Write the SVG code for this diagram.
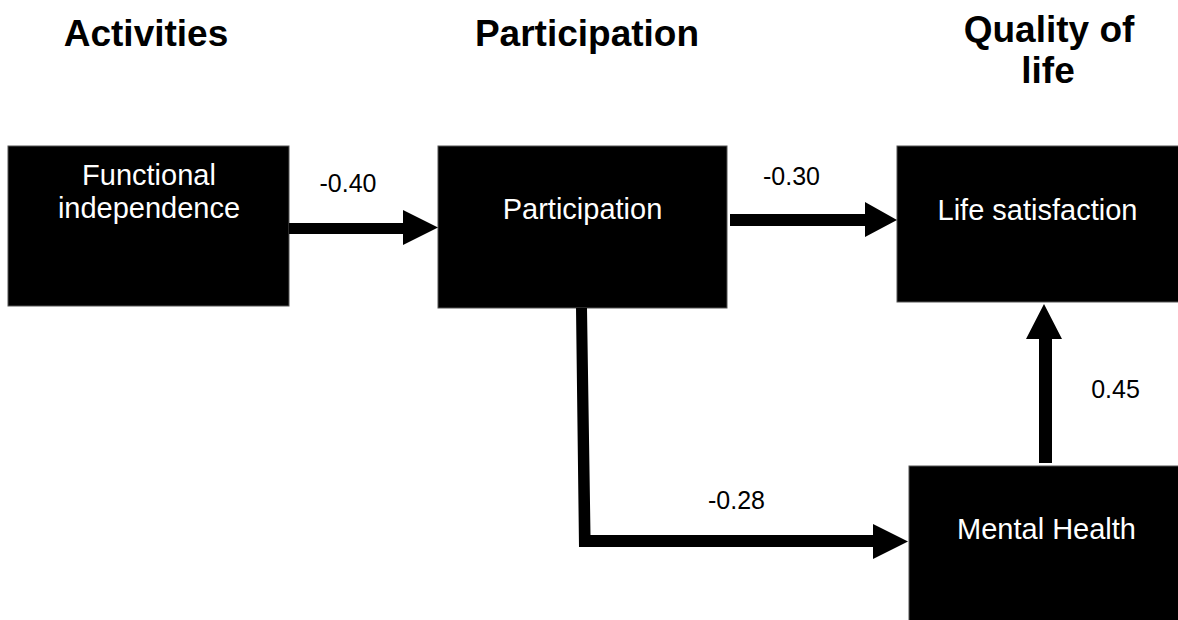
<svg xmlns="http://www.w3.org/2000/svg" width="1178" height="620" viewBox="0 0 1178 620">
<style>
.box{fill:#000;stroke:#555;stroke-width:1}
.nt{font-family:"Liberation Sans",Arial,sans-serif;font-size:29px;fill:#fff;text-anchor:middle}
.lbl{font-family:"Liberation Sans",Arial,sans-serif;font-size:25px;fill:#000;text-anchor:middle}
.ttl{font-family:"Liberation Sans",Arial,sans-serif;font-size:37px;font-weight:bold;fill:#000;text-anchor:middle}
.conn{fill:#000}
</style>
<rect width="1178" height="620" fill="#fff"/>
<g id="titles">
<text class="ttl" x="146" y="46">Activities</text>
<text class="ttl" x="587" y="46">Participation</text>
<text class="ttl" x="1049" y="42">Quality of</text>
<text class="ttl" x="1048" y="83">life</text>
</g>
<g id="node-functional">
<rect class="box" x="8" y="146" width="281" height="160"/>
<text class="nt" x="149" y="185">Functional</text>
<text class="nt" x="149" y="218">independence</text>
</g>
<g id="node-participation">
<rect class="box" x="438" y="146" width="289" height="162"/>
<text class="nt" x="582.5" y="219">Participation</text>
</g>
<g id="node-life">
<rect class="box" x="897" y="146" width="290" height="156"/>
<text class="nt" x="1037.5" y="220">Life satisfaction</text>
</g>
<g id="node-mental">
<rect class="box" x="909" y="466" width="290" height="170"/>
<text class="nt" x="1046.5" y="539">Mental Health</text>
</g>
<g id="connectors">
<polygon class="conn" points="289,223 403,223 403,210 438,227.5 403,245 403,234 289,234"/>
<polygon class="conn" points="730,214 865,214 865,202 897,220 865,237 865,226 730,226"/>
<polygon class="conn" points="1039,463 1039,339 1026,339 1044,304 1062,339 1052,339 1052,463"/>
<polygon class="conn" points="576,308 587,308 590.5,535 873,535 873,524 908,541.5 873,559 873,547 579,547"/>
</g>
<g id="labels">
<text class="lbl" x="348" y="192">-0.40</text>
<text class="lbl" x="791.5" y="185">-0.30</text>
<text class="lbl" x="1115.5" y="398">0.45</text>
<text class="lbl" x="736.5" y="509">-0.28</text>
</g>
</svg>
